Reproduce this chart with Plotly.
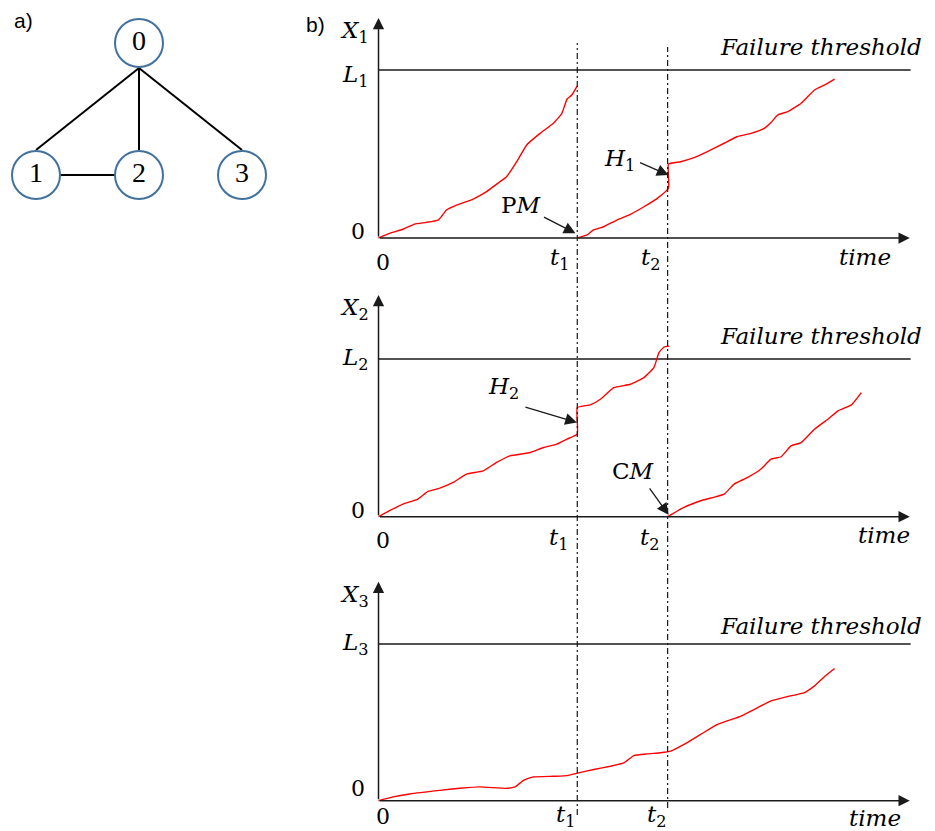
import plotly.graph_objects as go

# ==============================================================================
# -- Data ----------------------------------------------------------------------
# ==============================================================================
t1 = 11.0      # PM on unit 1 / hit H2 on unit 2
t2 = 16.0      # CM on unit 2 / hit H1 on unit 1
t_end = 29.4   # end of the time axis
thresholds = [10, 10, 10]   # L1, L2, L3

# unit 1: degrades until PM at t1, restarts from 0, jump H1 at t2
x1_time_pre = [0, 0.61, 1.35, 2.0, 2.65, 3.30, 3.48, 3.76, 4.32, 5.24, 5.98,
               6.72, 7.09, 7.65, 8.2, 8.94, 9.68, 10.15, 10.43, 10.7, 11.0]
x1_level_pre = [0, 0.28, 0.52, 0.83, 0.93, 1.07, 1.27, 1.67, 1.96, 2.32, 2.76,
                3.35, 3.65, 4.54, 5.54, 6.23, 6.83, 7.42, 8.26, 8.51, 9.05]
x1_time_post = [11.0, 11.54, 11.9, 12.46, 13.2, 13.94, 14.69, 15.43, 16.05, 16.05,
                16.72, 17.46, 18.2, 19.13, 19.87, 20.61, 21.35, 21.72, 22.09,
                22.65, 23.39, 24.13, 24.69, 25.24]
x1_level_post = [0, 0.18, 0.48, 0.67, 1.07, 1.41, 1.86, 2.36, 2.98, 4.4,
                 4.54, 4.78, 5.14, 5.64, 6.04, 6.23, 6.53, 6.87, 7.32,
                 7.52, 8.02, 8.81, 9.11, 9.46]

# unit 2: jump H2 at t1, crosses L2 before t2, CM at t2
x2_time_pre = [0, 0.61, 1.35, 2.18, 2.74, 3.39, 4.13, 4.87, 5.8, 6.54, 7.28,
               8.39, 9.13, 9.87, 10.43, 11.0, 11.0, 11.72, 12.28, 13.02, 13.94,
               14.69, 15.24, 15.52, 15.8, 16.1]
x2_level_pre = [0, 0.38, 0.8, 1.12, 1.6, 1.81, 2.17, 2.7, 2.91, 3.44, 3.86,
                4.07, 4.39, 4.6, 4.92, 5.23, 6.92, 7.09, 7.45, 8.18, 8.4,
                8.82, 9.45, 10.4, 10.76, 10.82]
x2_time_post = [16.0, 16.9, 17.83, 19.13, 19.68, 20.43, 21.17, 21.72, 22.28,
                22.83, 23.39, 24.13, 24.87, 25.43, 26.17, 26.72]
x2_level_post = [0, 0.59, 1.01, 1.43, 2.07, 2.49, 3.02, 3.65, 3.8,
                 4.49, 4.7, 5.55, 6.18, 6.71, 7.09, 7.87]

# unit 3: no maintenance
x3_time = [0, 0.8, 1.72, 3.39, 4.5, 5.61, 7.09, 7.56, 8.02, 8.57, 9.69, 10.43,
           11.07, 11.91, 12.83, 13.57, 14.13, 14.87, 15.61, 16.17, 16.91, 17.83,
           18.76, 20.06, 20.8, 21.72, 22.65, 23.57, 24.13, 24.69, 25.24]
x3_level = [0, 0.24, 0.43, 0.66, 0.79, 0.88, 0.79, 0.88, 1.3, 1.52, 1.56, 1.6,
            1.78, 1.99, 2.2, 2.41, 2.88, 2.99, 3.06, 3.16, 3.59, 4.23,
            4.87, 5.4, 5.83, 6.37, 6.65, 6.9, 7.33, 7.93, 8.44]

# network of panel a)
node_labels = ['0', '1', '2', '3']
node_x = [1.0, 0.0, 1.0, 2.0]
node_y = [1.3, 0.0, 0.0, 0.0]
edges = [(0, 1), (0, 2), (0, 3), (1, 2)]

# ==============================================================================
# -- Layout helpers (pixel positions of the drawing) ---------------------------
# ==============================================================================
PAGE = 8                       # page body margin
W, H = 935 - PAGE, 831 - PAGE  # figure size that fits the window
X0 = 378.5     # pixel column of time 0
U = 18.07      # pixels per time unit

def fx(p):
    return (p - PAGE) / W

def fy(p):
    return 1 - (p - PAGE) / H

SERIF = 'DejaVu Serif'
FS = 23
INK = '#1a1a1a'

panels = [
    dict(zero=238, L=70, top=18, zero_up=7, drop=24, tdrop=21, tshift=-5,
         time_at=26.9, time_drop=19, ft_up=23, Lshift=-6),
    dict(zero=516.7, L=359, top=295, zero_up=6, drop=24, tdrop=22, tshift=-6,
         time_at=28.0, time_drop=18, ft_up=23, Lshift=0),
    dict(zero=800.7, L=644, top=581.7, zero_up=12, drop=16, tdrop=15, tshift=1,
         time_at=27.5, time_drop=17, ft_up=18, Lshift=0),
]
curves = [
    [(x1_time_pre, x1_level_pre), (x1_time_post, x1_level_post)],
    [(x2_time_pre, x2_level_pre), (x2_time_post, x2_level_post)],
    [(x3_time, x3_level)],
]

fig = go.Figure()
layout = {}
ann = []


def label(xr, yr, x, y, text, size=FS, **kw):
    d = dict(xref=xr, yref=yr, x=x, y=y, text=text, showarrow=False,
             font=dict(family=SERIF, size=size, color='black'))
    d.update(kw)
    ann.append(d)


def arrow(xr, yr, x, y, ax, ay, pixel=True, width=1.3, size=1.8):
    d = dict(xref=xr, yref=yr, x=x, y=y, ax=ax, ay=ay, text='', showarrow=True,
             arrowhead=2, arrowsize=size, arrowwidth=width, arrowcolor=INK,
             standoff=0, startstandoff=0)
    if not pixel:
        d.update(axref=xr, ayref=yr)
    ann.append(d)


# ==============================================================================
# -- Panel b) : degradation paths ----------------------------------------------
# ==============================================================================
for i, p in enumerate(panels):
    n = i + 1
    xr = 'x' if i == 0 else f'x{n}'
    yr = 'y' if i == 0 else f'y{n}'
    L = thresholds[i]
    k = (p['zero'] - p['L']) / L
    ymax = (p['zero'] - p['top']) / k

    layout['xaxis' if i == 0 else f'xaxis{n}'] = dict(
        domain=[fx(X0 - 0.5 * U), fx(X0 + 30 * U)], range=[-0.5, 30],
        visible=False, anchor=yr)
    layout['yaxis' if i == 0 else f'yaxis{n}'] = dict(
        domain=[fy(p['zero'] + k), fy(p['top'])], range=[-1, ymax],
        visible=False, anchor=xr)

    fig.add_trace(go.Scatter(x=[0, t_end + 0.05], y=[L, L], mode='lines',
                             line=dict(color=INK, width=1.3),
                             xaxis=xr, yaxis=yr, hoverinfo='skip'))
    for tt, yy in curves[i]:
        fig.add_trace(go.Scatter(x=tt, y=yy, mode='lines',
                                 line=dict(color='#ff0000', width=1.4,
                                           shape='spline', smoothing=0.4),
                                 xaxis=xr, yaxis=yr))

    # axes with arrow heads
    arrow(xr, yr, 0, ymax, 0, 0, pixel=False, width=1.5, size=1.5)
    arrow(xr, yr, t_end, 0, 0, 0, pixel=False, width=1.5, size=1.5)

    label(xr, yr, 0, ymax, f'<i>X</i><sub>{n}</sub>', xanchor='right',
          yanchor='middle', xshift=-8, yshift=-14)
    label(xr, yr, 0, L, f'<i>L</i><sub>{n}</sub>', xanchor='right',
          yanchor='middle', xshift=-8, yshift=p['Lshift'])
    label(xr, yr, 0, 0, '0', size=22, xanchor='right', yanchor='middle',
          xshift=-12, yshift=p['zero_up'])
    label(xr, yr, 0, 0, '0', size=22, xanchor='left', yanchor='middle',
          xshift=-5, yshift=-p['drop'])
    label(xr, yr, t1, 0, '<i>t</i><sub>1</sub>', xanchor='right',
          yanchor='middle', xshift=p['tshift'], yshift=-p['tdrop'])
    label(xr, yr, t2, 0, '<i>t</i><sub>2</sub>', xanchor='right',
          yanchor='middle', xshift=p['tshift'], yshift=-p['tdrop'])
    label(xr, yr, p['time_at'], 0, '<i>time</i>', yanchor='middle',
          yshift=-p['time_drop'])
    label(xr, yr, 24.49, L, '<i>Failure threshold</i>', yanchor='middle',
          yshift=p['ft_up'])

# maintenance call-outs
label('x', 'y', 7.86, 1.96, 'P<i>M</i>')
arrow('x', 'y', 10.9, 0.28, -33, -17)
label('x', 'y', 13.33, 4.64, '<i>H</i><sub>1</sub>')
arrow('x', 'y', 16.05, 3.75, -30, -13)
label('x2', 'y2', 6.89, 8.17, '<i>H</i><sub>2</sub>')
arrow('x2', 'y2', 10.98, 5.97, -53, -16)
label('x2', 'y2', 14.11, 2.9, 'C<i>M</i>')
arrow('x2', 'y2', 16.05, 0.12, -20, -28)

# event times across the three panels
shapes = [
    dict(type='line', xref='x', yref='paper', x0=t1, x1=t1, y0=fy(815), y1=fy(43),
         line=dict(color=INK, width=1.2, dash='6px,3px,2px,3px')),
    dict(type='line', xref='x', yref='paper', x0=t2, x1=t2, y0=fy(808), y1=fy(47),
         line=dict(color=INK, width=1.2, dash='6px,3px,2px,3px')),
]

# ==============================================================================
# -- Panel a) : network --------------------------------------------------------
# ==============================================================================
NX0, NY0 = 36, 175        # pixel of node (0, 0)
KX, KY = 103, 101.5       # pixels per unit
R = 25                    # node radius in pixels
layout['xaxis4'] = dict(domain=[fx(PAGE), fx(288)],
                        range=[(PAGE - NX0) / KX, (288 - NX0) / KX],
                        visible=False, anchor='y4')
layout['yaxis4'] = dict(domain=[fy(240), fy(PAGE)],
                        range=[-(240 - NY0) / KY, (NY0 - PAGE) / KY],
                        visible=False, anchor='x4')

for a, b in edges:
    ex = [node_x[a], node_x[b]]
    if node_y[a] != node_y[b]:
        ey = [node_y[a] - R / KY, node_y[b] + R / KY]
    else:
        ey = [node_y[a], node_y[b]]
    fig.add_trace(go.Scatter(x=ex, y=ey, mode='lines', line=dict(color='black', width=2),
                             xaxis='x4', yaxis='y4', hoverinfo='skip'))

fig.add_trace(go.Scatter(
    x=node_x, y=node_y, mode='markers+text', text=node_labels,
    textposition='middle center',
    textfont=dict(family='Liberation Serif', size=28, color='black'),
    marker=dict(size=48, color='white', line=dict(color='#41719c', width=2)),
    xaxis='x4', yaxis='y4', cliponaxis=False))

for txt, lx, ly in [('a)', 24, 21), ('b)', 315, 24)]:
    ann.append(dict(xref='paper', yref='paper', x=fx(lx), y=fy(ly), text=txt,
                    xanchor='center', yanchor='middle', showarrow=False,
                    font=dict(family='Liberation Sans', size=21, color='black')))

fig.update_layout(
    width=W, height=H,
    margin=dict(l=0, r=0, t=0, b=0),
    paper_bgcolor='white', plot_bgcolor='white',
    showlegend=False,
    annotations=ann,
    shapes=shapes,
    **layout
)

fig.write_html("out.html")
